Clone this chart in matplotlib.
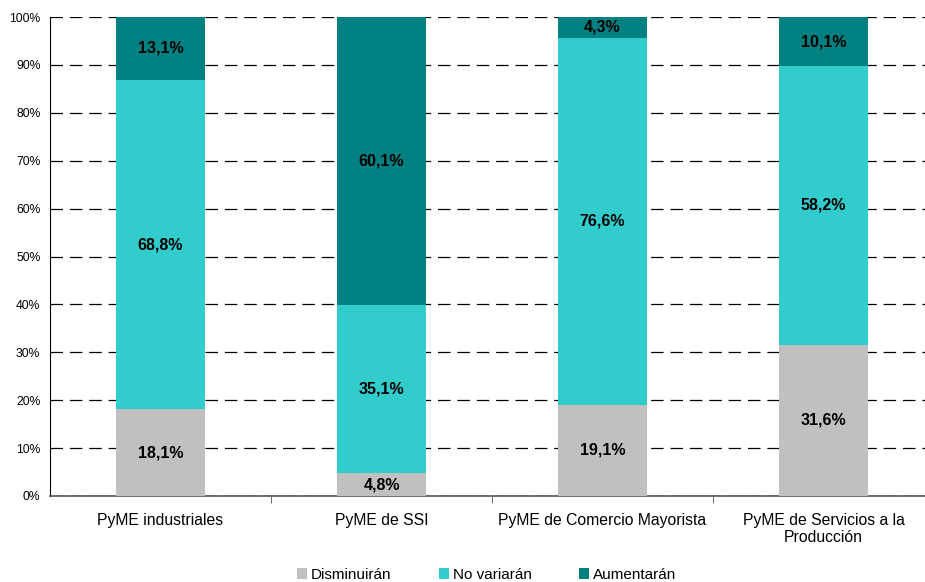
import matplotlib
matplotlib.use("Agg")
import matplotlib.pyplot as plt
import numpy as np

categories = ["PyME industriales", "PyME de SSI", "PyME de Comercio Mayorista", "PyME de Servicios a la\nProducción"]
disminuiran = [18.1, 4.8, 19.1, 31.6]
no_variaran = [68.8, 35.1, 76.6, 58.2]
aumentaran = [13.1, 60.1, 4.3, 10.1]
series_names = ["Disminuirán", "No variarán", "Aumentarán"]
colors = ["#C0C0C0", "#33CCCC", "#008080"]

plt.rcParams['font.family'] = ['Liberation Sans', 'DejaVu Sans']

fig = plt.figure(figsize=(9.25, 5.82), dpi=100)
ax = fig.add_axes([50/925, 86/582, 884/925, 479/582])

x = np.arange(len(categories))
width = 0.40
bottoms = np.zeros(len(categories))
handles = []
for vals, name, col in zip([disminuiran, no_variaran, aumentaran], series_names, colors):
    vals = np.array(vals)
    b = ax.bar(x, vals, width, bottom=bottoms, color=col, label=name, zorder=3)
    handles.append(b)
    for xi, v, bt in zip(x, vals, bottoms):
        ax.text(xi, bt + v/2, f"{v:.1f}%".replace(".", ","), ha="center", va="center",
                fontsize=11.5, fontweight="bold", color="black", zorder=4)
    bottoms = bottoms + vals

ax.set_xlim(-0.5, len(categories) - 0.5)
ax.set_ylim(0, 100)
ax.set_yticks(np.arange(0, 101, 10))
ax.set_yticklabels([f"{t}%" for t in range(0, 101, 10)], fontsize=8.7)
ax.yaxis.grid(True, linestyle=(0, (10, 5.5)), color="black", linewidth=0.9, zorder=0)
ax.set_axisbelow(True)

ax.set_xticks(x)
ax.set_xticklabels(categories, fontsize=11.3)
ax.tick_params(axis="x", which="major", length=0, pad=12)
ax.set_xticks(np.arange(0.5, len(categories) - 0.5, 1), minor=True)
ax.tick_params(axis="x", which="minor", length=5, color="#555555", direction="out")
ax.tick_params(axis="y", length=0, pad=7)

for s in ["top", "right"]:
    ax.spines[s].set_visible(False)
ax.spines["left"].set_color("black")
ax.spines["bottom"].set_color("#555555")
ax.spines["bottom"].set_linewidth(1.2)

fig.legend(handles=handles, labels=series_names, loc="center", ncol=3,
           bbox_to_anchor=(0.526, 1 - 575/582), frameon=False, fontsize=11,
           handlelength=0.67, handleheight=0.67, handletextpad=0.25, columnspacing=3.1,
           borderpad=0.1)

fig.savefig("out.png", dpi=100)
